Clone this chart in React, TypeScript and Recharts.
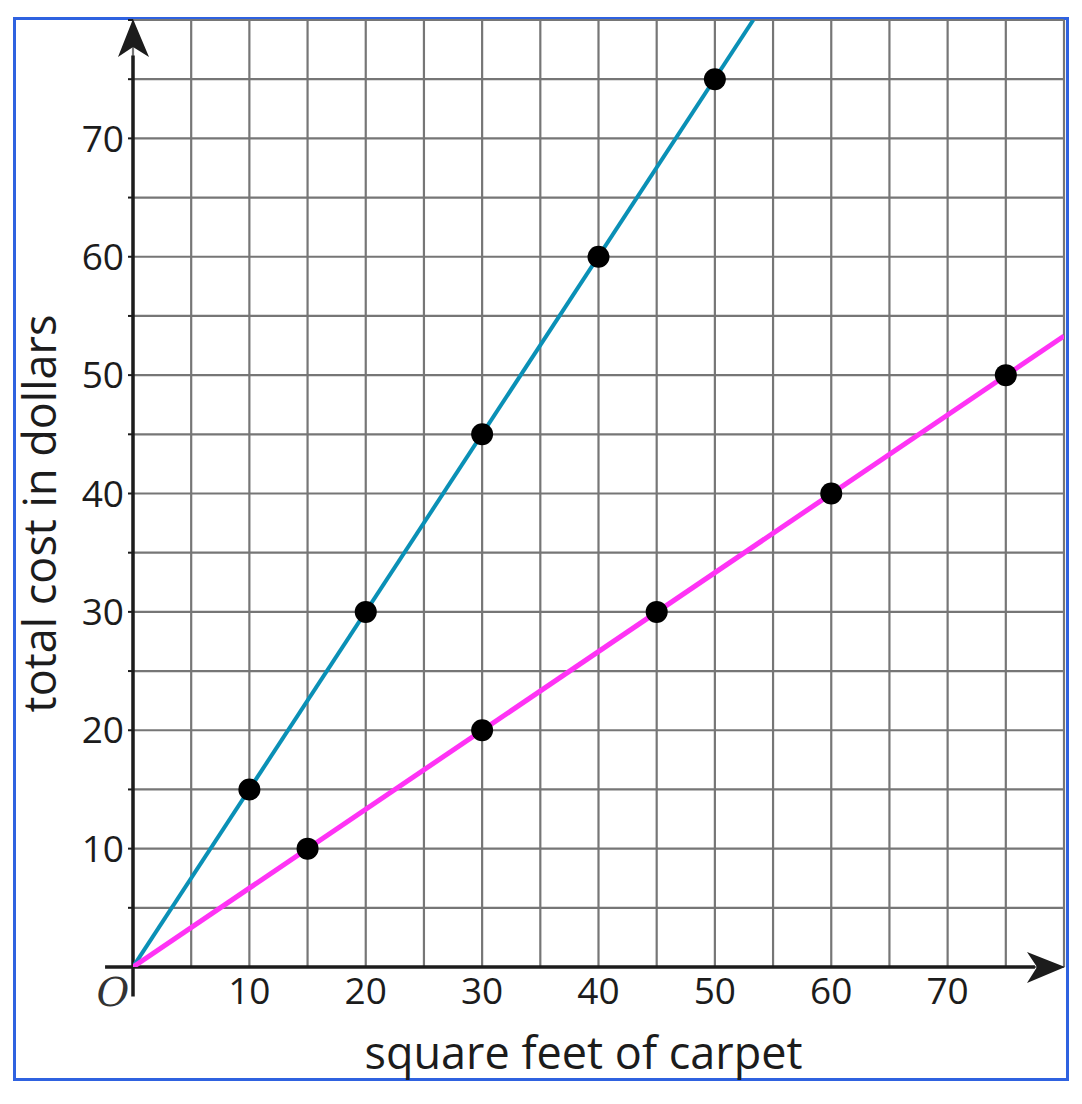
import {
  ComposedChart,
  Line,
  Scatter,
  XAxis,
  YAxis,
  CartesianGrid,
  ReferenceLine,
  ReferenceDot,
} from 'recharts';

// grid ticks every 5, labels every 10
const TICKS = [0, 5, 10, 15, 20, 25, 30, 35, 40, 45, 50, 55, 60, 65, 70, 75, 80];

// blue line: points
const BLUE_X = [10, 20, 30, 40, 50];
const BLUE_Y = [15, 30, 45, 60, 75];
// blue line runs from the origin out to the top edge
const BLUE_LINE_X = [0, 53.3];
const BLUE_LINE_Y = [0, 80];

// magenta line
const PINK_X = [15, 30, 45, 60, 75];
const PINK_Y = [10, 20, 30, 40, 50];
const PINK_LINE_X = [0, 80];
const PINK_LINE_Y = [0, 53.3];

const X_TITLE = 'square feet of carpet';
const Y_TITLE = 'total cost in dollars';

const toPoints = (xs: number[], ys: number[]) => xs.map((x, i) => ({ x, y: ys[i] }));

const FONT = '"Open Sans", "Noto Sans", sans-serif';
const INK = '#1c1c1c';
const BLUE = '#0a90b6';
const PINK = '#ff33f5';

const Dot = (props: any) => {
  const { cx, cy } = props;
  return <circle cx={cx} cy={cy} r={11} fill="#000" />;
};

const ArrowUp = (props: any) => {
  const { cx, cy } = props;
  return (
    <path
      d={`M${cx},${cy - 1} L${cx - 15},${cy + 37} L${cx},${cy + 27} L${cx + 16},${cy + 37} Z`}
      fill={INK}
    />
  );
};

const ArrowRight = (props: any) => {
  const { cx, cy } = props;
  return (
    <path
      d={`M${cx + 1},${cy} L${cx - 37},${cy - 15} L${cx - 27},${cy} L${cx - 37},${cy + 16} Z`}
      fill={INK}
    />
  );
};

const XTick = (props: any) => {
  const { x, y, payload } = props;
  const v = payload.value;
  if (v === 0) {
    return (
      <text x={x - 20} y={y} dy="0.71em" textAnchor="middle" fontSize={40} fontFamily="DejaVu Serif" fontStyle="italic" fontWeight={300} fill="#333">
        O
      </text>
    );
  }
  if (v % 10 !== 0 || v === 80) return null;
  return (
    <text x={x} y={y} dy="0.71em" textAnchor="middle" fontSize={37} fontFamily={FONT} fill={INK}>
      {v}
    </text>
  );
};

const XTitle = (props: any) => {
  const { viewBox } = props;
  return (
    <text
      x={viewBox.x + viewBox.width / 2 - 15}
      y={viewBox.y + 102}
      textAnchor="middle"
      fontSize={45}
      fontFamily={FONT}
      fill={INK}
    >
      {X_TITLE}
    </text>
  );
};

const YTitle = (props: any) => {
  const { viewBox } = props;
  const x = viewBox.x + 56;
  const y = viewBox.y + viewBox.height / 2 + 20;
  return (
    <text x={x} y={y} transform={`rotate(-90 ${x} ${y})`} textAnchor="middle" fontSize={45} fontFamily={FONT} fill={INK}>
      {Y_TITLE}
    </text>
  );
};

export default function App() {
  return (
    <div style={{ position: 'absolute', left: 0, top: 0, width: 1082, height: 1104, background: '#fff' }}>
      <div
        style={{
          position: 'absolute',
          left: 13,
          top: 17,
          width: 1050,
          height: 1058,
          border: '3px solid #2f62e0',
        }}
      />
      <div style={{ position: 'absolute', left: 0, top: 0 }}>
        <ComposedChart width={1082} height={1104} margin={{ top: 20, right: 18, bottom: 0, left: 0 }}>
          <CartesianGrid stroke="#767676" strokeWidth={2.2} />
          <XAxis
            type="number"
            dataKey="x"
            domain={[0, 80]}
            ticks={TICKS}
            interval={0}
            allowDataOverflow
            height={137}
            axisLine={false}
            tickLine={false}
            tickSize={0}
            tickMargin={11}
            tick={<XTick />}
            label={<XTitle />}
          />
          <YAxis
            type="number"
            dataKey="y"
            domain={[0, 80]}
            ticks={TICKS}
            interval={0}
            allowDataOverflow
            width={133}
            axisLine={false}
            tickLine={{ stroke: INK, strokeWidth: 2 }}
            tickSize={5}
            tickMargin={4}
            tickFormatter={(v: number) => (v % 10 === 0 && v !== 0 && v !== 80 ? String(v) : '')}
            tick={{ fill: INK, fontSize: 37, fontFamily: FONT }}
            label={<YTitle />}
          />
          <ReferenceLine
            segment={[{ x: 0, y: -2.5 }, { x: 0, y: 77 }]}
            stroke={INK}
            strokeWidth={3.5}
            ifOverflow="visible"
          />
          <ReferenceLine
            segment={[{ x: -2.4, y: 0 }, { x: 77.5, y: 0 }]}
            stroke={INK}
            strokeWidth={3.5}
            ifOverflow="visible"
          />
          <ReferenceDot x={0} y={80} ifOverflow="visible" shape={<ArrowUp />} />
          <ReferenceDot x={80} y={0} ifOverflow="visible" shape={<ArrowRight />} />
          <Line
            data={toPoints(BLUE_LINE_X, BLUE_LINE_Y)}
            dataKey="y"
            type="linear"
            stroke={BLUE}
            strokeWidth={4}
            dot={false}
            activeDot={false}
            isAnimationActive={false}
          />
          <Line
            data={toPoints(PINK_LINE_X, PINK_LINE_Y)}
            dataKey="y"
            type="linear"
            stroke={PINK}
            strokeWidth={5}
            dot={false}
            activeDot={false}
            isAnimationActive={false}
          />
          <Scatter data={toPoints(BLUE_X, BLUE_Y)} shape={<Dot />} isAnimationActive={false} />
          <Scatter data={toPoints(PINK_X, PINK_Y)} shape={<Dot />} isAnimationActive={false} />
        </ComposedChart>
      </div>
    </div>
  );
}
